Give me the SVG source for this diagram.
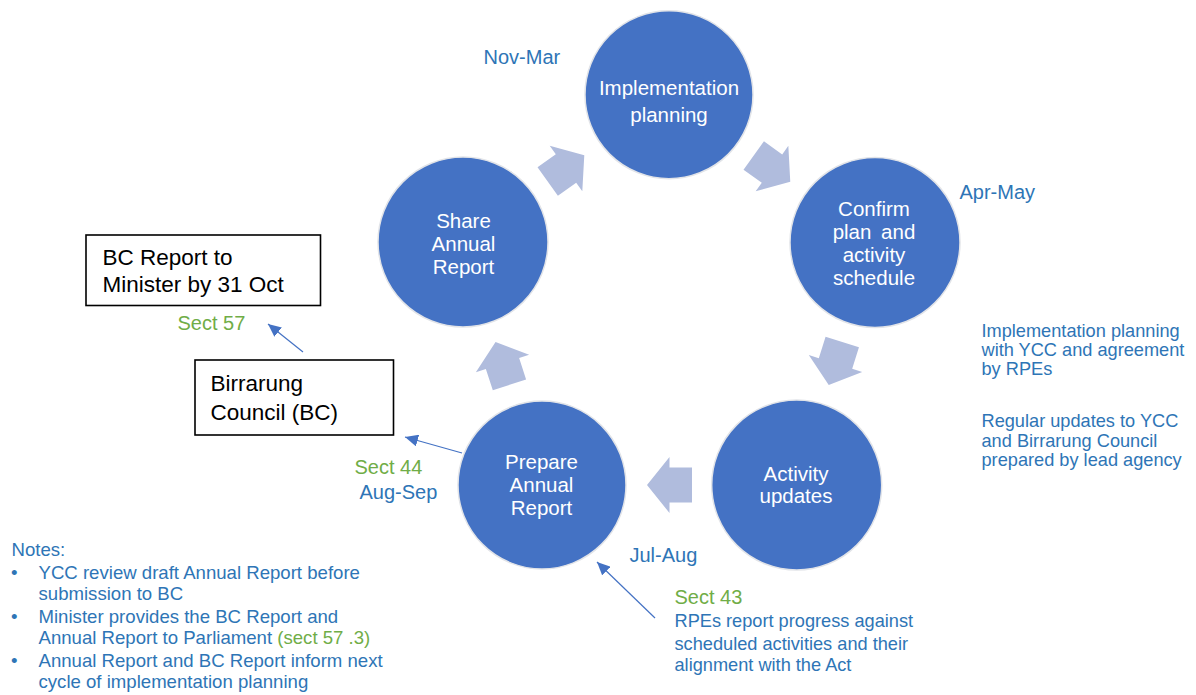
<svg xmlns="http://www.w3.org/2000/svg" xmlns:xlink="http://www.w3.org/1999/xlink" width="1196" height="695" viewBox="0 0 1196 695">
<style>
text{font-family:"Liberation Sans",Arial,sans-serif}
.circ{fill:#4472C4;stroke:#E2E4E8;stroke-width:1.5}
.ct{fill:#FFFFFF;font-size:20.5px;text-anchor:middle}
.blk{fill:#B0BCDD}
.lbl{fill:#2E75B6;font-size:20px}
.sec{fill:#70AD47;font-size:20px}
.small{fill:#2E75B6;font-size:18.2px}
.note{fill:#2E75B6;font-size:18.6px}
.box{fill:#FFFFFF;stroke:#000000;stroke-width:1.6}
.bt{fill:#000000;font-size:22.5px}
.con{stroke:#4472C4;stroke-width:1.2;fill:none;marker-end:url(#ah)}
</style>
<defs>
<path id="bk" d="M-22.5,-17.5 H0 V-28 L22.5,0 L0,28 V17.5 H-22.5 Z"/>
<marker id="ah" markerUnits="userSpaceOnUse" markerWidth="14" markerHeight="12" refX="13" refY="6" orient="auto">
<path d="M0,0 L13,6 L0,12 Z" fill="#4472C4"/>
</marker>
</defs>
<rect width="1196" height="695" fill="#FFFFFF"/>

<g id="cycle-arrows">
<use xlink:href="#bk" class="blk" transform="translate(772,168.6) rotate(35.7)"/>
<use xlink:href="#bk" class="blk" transform="translate(835.5,363.5) rotate(107.5)"/>
<use xlink:href="#bk" class="blk" transform="translate(669.5,485) rotate(180)"/>
<use xlink:href="#bk" class="blk" transform="translate(502.5,363.5) rotate(252)"/>
<use xlink:href="#bk" class="blk" transform="translate(566,168.4) rotate(-35.6)"/>
</g>

<g id="connectors">
<line class="con" x1="303" y1="352" x2="268" y2="324"/>
<line class="con" x1="462" y1="453" x2="405" y2="437"/>
<line class="con" x1="655" y1="618" x2="597" y2="562"/>
</g>

<g id="n-impl">
<circle class="circ" cx="669" cy="94.7" r="84"/>
<text class="ct" x="669" y="95">Implementation</text>
<text class="ct" x="669" y="121.5">planning</text>
</g>

<g id="n-confirm">
<circle class="circ" cx="875" cy="242.5" r="85"/>
<text class="ct" x="874" y="216">Confirm</text>
<text class="ct" x="874" y="238.5" word-spacing="4">plan and</text>
<text class="ct" x="874" y="261.5">activity</text>
<text class="ct" x="874" y="285">schedule</text>
</g>

<g id="n-activity">
<circle class="circ" cx="796.7" cy="485" r="85"/>
<text class="ct" x="796" y="480.5">Activity</text>
<text class="ct" x="796" y="503">updates</text>
</g>

<g id="n-prepare">
<circle class="circ" cx="542" cy="485" r="84"/>
<text class="ct" x="541.5" y="469">Prepare</text>
<text class="ct" x="541.5" y="492">Annual</text>
<text class="ct" x="541.5" y="515">Report</text>
</g>

<g id="n-share">
<circle class="circ" cx="463" cy="242" r="85"/>
<text class="ct" x="463.5" y="228">Share</text>
<text class="ct" x="463.5" y="251">Annual</text>
<text class="ct" x="463.5" y="274">Report</text>
</g>

<g id="n-bcreport">
<rect class="box" x="86" y="235" width="234.5" height="70.5"/>
<text class="bt" x="102.5" y="265">BC Report to</text>
<text class="bt" x="102.5" y="291.5">Minister by 31 Oct</text>
</g>

<g id="n-council">
<rect class="box" x="195" y="360" width="198.5" height="75"/>
<text class="bt" x="210.5" y="390.5">Birrarung</text>
<text class="bt" x="210.5" y="420">Council (BC)</text>
</g>

<g id="labels">
<text class="lbl" x="483.5" y="64">Nov-Mar</text>
<text class="lbl" x="959.5" y="198.5">Apr-May</text>
<text class="lbl" x="359.5" y="498.5">Aug-Sep</text>
<text class="lbl" x="629.5" y="561.5">Jul-Aug</text>
<text class="sec" x="177.5" y="330">Sect 57</text>
<text class="sec" x="354.5" y="474">Sect 44</text>
<text class="sec" x="674.5" y="604">Sect 43</text>
</g>

<g id="side-text">
<text class="small" x="981.5" y="337">Implementation planning</text>
<text class="small" x="981.5" y="356">with YCC and agreement</text>
<text class="small" x="981.5" y="375">by RPEs</text>
<text class="small" x="981.5" y="427">Regular updates to YCC</text>
<text class="small" x="981.5" y="446.5">and Birrarung Council</text>
<text class="small" x="981.5" y="466">prepared by lead agency</text>
</g>

<g id="rpe-text">
<text class="small" x="674.5" y="627">RPEs report progress against</text>
<text class="small" x="674.5" y="649.5">scheduled activities and their</text>
<text class="small" x="674.5" y="670.5">alignment with the Act</text>
</g>

<g id="notes">
<text class="note" x="11.5" y="556">Notes:</text>
<text class="note" x="11" y="578.5">•</text>
<text class="note" x="38.5" y="578.5">YCC review draft Annual Report before</text>
<text class="note" x="38.5" y="600">submission to BC</text>
<text class="note" x="11" y="622.5">•</text>
<text class="note" x="38.5" y="622.5">Minister provides the BC Report and</text>
<text class="note" x="38.5" y="643.5">Annual Report to Parliament <tspan fill="#70AD47">(sect 57 .3)</tspan></text>
<text class="note" x="11" y="666.5">•</text>
<text class="note" x="38.5" y="666.5">Annual Report and BC Report inform next</text>
<text class="note" x="38.5" y="688">cycle of implementation planning</text>
</g>
</svg>
